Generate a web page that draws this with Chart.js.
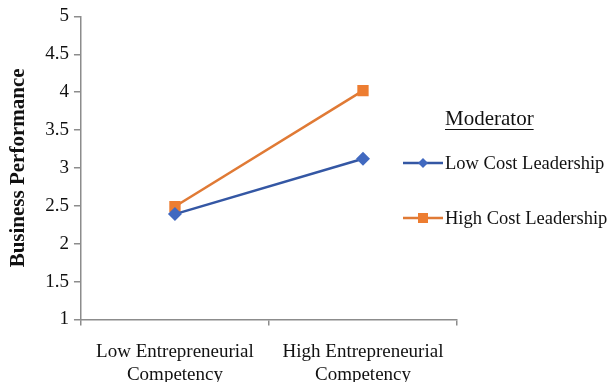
<!DOCTYPE html>
<html>
<head>
<meta charset="utf-8">
<script src="https://cdn.jsdelivr.net/npm/chart.js@4/dist/chart.umd.min.js"></script>
<style>
  html, body { margin: 0; padding: 0; background: #fff; }
  #wrap { width: 612px; height: 382px; overflow: hidden; }
  #inner { width: 612px; height: 401px; position: relative; }
</style>
</head>
<body>
<div id="wrap"><div id="inner"><canvas id="c"></canvas></div></div>
<script>
const categories = [['Low Entrepreneurial', 'Competency'], ['High Entrepreneurial', 'Competency']];
const lowCostValues = [2.39, 3.12];
const highCostValues = [2.49, 4.02];
const seriesNames = ['Low Cost Leadership', 'High Cost Leadership'];
const legendTitle = 'Moderator';
const yTitle = 'Business Performance';

const FONT = '"Liberation Serif", "Times New Roman", serif';
const BLUE_LINE = '#3457a4';
const BLUE_MARK = '#4169c0';
const ORANGE_LINE = '#e07a35';
const ORANGE_MARK = '#ed7d31';
const AXIS = '#8c8c8c';

// Legend on the right, drawn by hand to match the original layout
const sideLegend = {
  id: 'sideLegend',
  afterDraw(chart) {
    const ctx = chart.ctx;
    const x0 = chart.chartArea.right - 54;
    ctx.save();
    ctx.font = '21px ' + FONT;
    ctx.fillStyle = '#111';
    ctx.textBaseline = 'middle';
    ctx.textAlign = 'left';
    const tx = x0 + 42;
    ctx.fillText(legendTitle, tx, 119);
    const w = ctx.measureText(legendTitle).width;
    ctx.strokeStyle = '#111';
    ctx.lineWidth = 1;
    ctx.beginPath();
    ctx.moveTo(tx, 129.5);
    ctx.lineTo(tx + w, 129.5);
    ctx.stroke();

    ctx.font = '18.5px ' + FONT;
    const items = [
      { y: 163, line: BLUE_LINE, mark: BLUE_MARK, shape: 'diamond' },
      { y: 218, line: ORANGE_LINE, mark: ORANGE_MARK, shape: 'square' }
    ];
    items.forEach((it, i) => {
      ctx.strokeStyle = it.line;
      ctx.lineWidth = 2.5;
      ctx.beginPath();
      ctx.moveTo(x0, it.y);
      ctx.lineTo(x0 + 40, it.y);
      ctx.stroke();
      ctx.fillStyle = it.mark;
      const cx = x0 + 20;
      if (it.shape === 'diamond') {
        ctx.beginPath();
        ctx.moveTo(cx, it.y - 5);
        ctx.lineTo(cx + 5, it.y);
        ctx.lineTo(cx, it.y + 5);
        ctx.lineTo(cx - 5, it.y);
        ctx.closePath();
        ctx.fill();
      } else {
        ctx.fillRect(cx - 5, it.y - 5, 10, 10);
      }
      ctx.fillStyle = '#111';
      ctx.fillText(seriesNames[i], tx, it.y + 1);
    });
    ctx.restore();
  }
};

new Chart(document.getElementById('c'), {
  type: 'line',
  data: {
    labels: categories,
    datasets: [
      {
        label: seriesNames[0],
        data: lowCostValues,
        borderColor: BLUE_LINE,
        backgroundColor: BLUE_MARK,
        borderWidth: 2.5,
        pointStyle: 'rectRot',
        pointRadius: 7,
        pointBorderWidth: 0,
        pointBackgroundColor: BLUE_MARK,
        tension: 0
      },
      {
        label: seriesNames[1],
        data: highCostValues,
        borderColor: ORANGE_LINE,
        backgroundColor: ORANGE_MARK,
        borderWidth: 2.5,
        pointStyle: 'rect',
        pointRadius: 8,
        pointBorderWidth: 0,
        pointBackgroundColor: ORANGE_MARK,
        tension: 0
      }
    ]
  },
  options: {
    responsive: true,
    maintainAspectRatio: false,
    animation: false,
    layout: { padding: { top: 6, right: 155, left: 6, bottom: 0 } },
    plugins: {
      legend: { display: false },
      tooltip: { enabled: false }
    },
    scales: {
      x: {
        offset: true,
        grid: { offset: true, drawOnChartArea: false, drawTicks: true, tickLength: 6, color: AXIS, lineWidth: 1.5 },
        border: { color: AXIS, width: 1.5 },
        ticks: { color: '#111', font: { family: FONT, size: 19, lineHeight: 1.2 }, padding: 15, maxRotation: 0 }
      },
      y: {
        min: 1,
        max: 5,
        grid: { drawOnChartArea: false, drawTicks: true, tickLength: 7, color: AXIS, lineWidth: 1.5 },
        border: { color: AXIS, width: 1.5 },
        ticks: {
          stepSize: 0.5,
          color: '#111',
          font: { family: FONT, size: 19 },
          padding: 5,
          callback: (v) => String(Math.round(v * 10) / 10)
        },
        title: { display: true, text: yTitle, color: '#111', font: { family: FONT, size: 21, weight: 'bold' }, padding: { top: 0, bottom: 9 } }
      }
    }
  },
  plugins: [sideLegend]
});
</script>
</body>
</html>
